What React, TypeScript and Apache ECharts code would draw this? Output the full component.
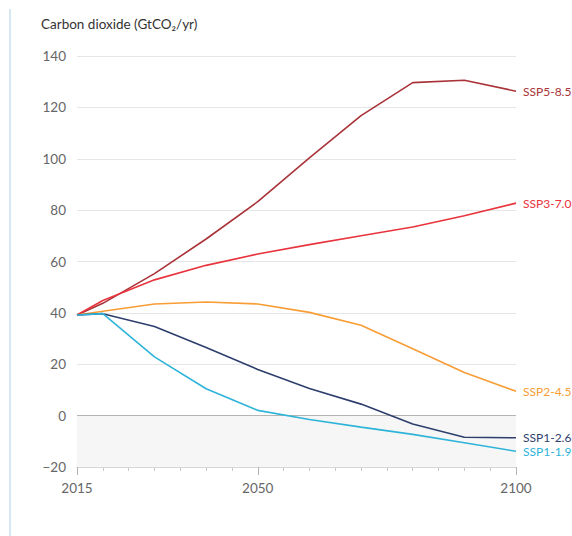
import React, { useEffect, useRef } from "react";
import * as echarts from "echarts";

const years = [2015, 2020, 2030, 2040, 2050, 2060, 2070, 2080, 2090, 2100];
const ssp119 = [39.15, 39.69, 22.85, 10.48, 2.05, -1.53, -4.48, -7.31, -10.53, -13.89];
const ssp126 = [39.15, 39.69, 34.73, 26.51, 17.96, 10.53, 4.48, -3.29, -8.39, -8.62];
const ssp245 = [39.15, 40.65, 43.48, 44.25, 43.46, 40.2, 35.17, 26.05, 16.78, 9.46];
const ssp370 = [39.15, 44.81, 52.85, 58.5, 62.9, 66.57, 70.04, 73.41, 77.81, 82.73];
const ssp585 = [39.15, 43.71, 55.3, 68.76, 83.3, 100.34, 116.81, 129.65, 130.58, 126.29];
const seriesNames = ["SSP5-8.5", "SSP3-7.0", "SSP2-4.5", "SSP1-2.6", "SSP1-1.9"];
const seriesColors = ["#a93338", "#e8343d", "#f89d35", "#2e3f6e", "#2fb4d9"];
const xLabelYears = [2015, 2050, 2100];
const title = "Carbon dioxide (GtCO\u2082/yr)";

export default function App() {
  const ref = useRef<HTMLDivElement>(null);
  useEffect(() => {
    document.body.style.margin = "0";
    const chart = echarts.init(ref.current!, null, { renderer: "svg" });
    const allData = [ssp585, ssp370, ssp245, ssp126, ssp119];
    const font = "Lato, 'Noto Sans', sans-serif";
    const series: any[] = allData.map((d, i) => ({
      name: seriesNames[i],
      type: "line",
      data: years.map((y, j) => [y, d[j]]),
      symbol: "none",
      lineStyle: { color: seriesColors[i], width: 1.6 },
      itemStyle: { color: seriesColors[i] },
      z: 5 + i,
      endLabel: {
        show: true,
        formatter: seriesNames[i],
        color: seriesColors[i],
        fontSize: 12,
        fontFamily: font,
        distance: 7,
      },
    }));
    series.push({
      type: "line",
      data: [],
      z: 1,
      markArea: {
        silent: true,
        itemStyle: { color: "#f6f6f6" },
        data: [[{ yAxis: 0 }, { yAxis: -20 }]],
      },
      markLine: {
        silent: true,
        symbol: "none",
        label: { show: false },
        lineStyle: { color: "#b5b5b5", width: 1.2, type: "solid" },
        data: [{ yAxis: 0 }],
      },
    });
    chart.setOption({
      animation: false,
      grid: { left: 77, right: 56, top: 56, bottom: 69 },
      title: {
        text: title,
        left: 36,
        top: 12,
        textStyle: { fontSize: 13.5, fontWeight: "normal", color: "#333", fontFamily: font },
      },
      graphic: [
        { type: "rect", shape: { x: 9, y: 9, width: 2, height: 530 }, style: { fill: "#d5e8f3" } },
      ],
      xAxis: [
        {
          type: "value",
          min: 2015,
          max: 2100,
          position: "bottom",
          z: 4,
          axisLine: { show: true, onZero: false, lineStyle: { color: "#d6d6d6", width: 1 } },
          axisTick: { show: true, length: 8, customValues: xLabelYears, lineStyle: { color: "#b4b4b4", width: 1 } },
          axisLabel: {
            show: true,
            customValues: xLabelYears,
            color: "#666",
            fontSize: 13.5,
            fontFamily: font,
            margin: 14,
            formatter: (v: number) => String(v),
          },
          splitLine: { show: false },
        },
        {
          type: "value",
          min: 2015,
          max: 2100,
          interval: 5,
          position: "bottom",
          z: 3,
          axisLine: { show: false, onZero: false },
          axisTick: { show: true, length: 4, lineStyle: { color: "#c8c8c8", width: 1 } },
          axisLabel: { show: false },
          splitLine: { show: false },
        },
      ],
      yAxis: {
        type: "value",
        min: -20,
        max: 140,
        interval: 20,
        axisLine: { show: false },
        axisTick: { show: false },
        axisLabel: {
          color: "#666",
          fontSize: 13.5,
          fontFamily: font,
          margin: 11,
          formatter: (v: number) => (v < 0 ? "\u2212" + Math.abs(v) : String(v)),
        },
        splitLine: { lineStyle: { color: "#e6e6e6", width: 1 } },
      },
      series,
    });
    return () => chart.dispose();
  }, []);
  return <div ref={ref} style={{ position: "absolute", left: 0, top: 0, width: 572, height: 536 }} />;
}
